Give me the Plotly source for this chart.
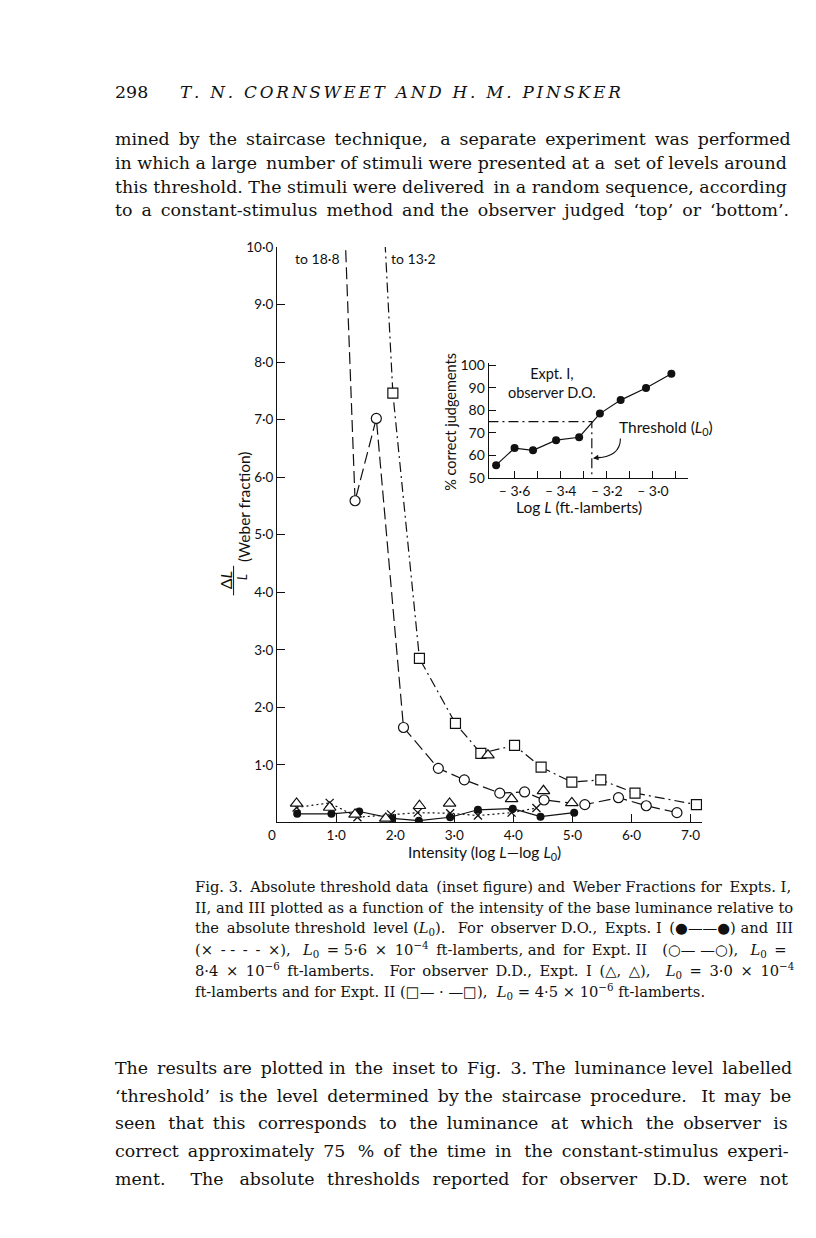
import plotly.graph_objects as go

W, H = 816, 1238
SERIF = "DejaVu Serif"
SANS = "Lato"
INK = "#111111"

# ---- main figure data: intensity (log L - log L0) vs Weber fraction ----
expt1_do_x = [0.34, 0.92, 1.39, 1.95, 2.40, 2.93, 3.40, 3.99, 4.46, 5.03]
expt1_do_y = [0.15, 0.15, 0.19, 0.07, 0.03, 0.09, 0.22, 0.24, 0.10, 0.17]

expt3_do_x = [0.33, 0.89, 1.36, 1.93, 2.38, 2.93, 3.40, 3.97, 4.39]
expt3_do_y = [0.26, 0.34, 0.09, 0.14, 0.17, 0.16, 0.12, 0.17, 0.25]

expt2_do_x = [0.84, 1.32, 1.68, 2.14, 2.73, 3.17, 3.77, 4.19, 4.52, 5.21, 5.78, 6.25, 6.77]
expt2_do_y = [18.8, 5.59, 7.02, 1.65, 0.94, 0.74, 0.51, 0.53, 0.39, 0.31, 0.43, 0.29, 0.17]

expt1_dd_x = [0.33, 0.89, 1.32, 1.84, 2.41, 2.92, 3.57, 3.97, 4.51, 4.99]
expt1_dd_y = [0.33, 0.26, 0.14, 0.07, 0.29, 0.33, 1.17, 0.41, 0.55, 0.34]

expt2_dd_x = [1.67, 1.96, 2.41, 3.02, 3.45, 4.02, 4.47, 4.99, 5.48, 6.06, 7.10]
expt2_dd_y = [13.2, 7.46, 2.85, 1.72, 1.20, 1.34, 0.96, 0.70, 0.74, 0.51, 0.31]

main_xticks = [0, 1, 2, 3, 4, 5, 6, 7]
main_xlabels = ["0\u2003", "1·0", "2·0", "3·0", "4·0", "5·0", "6·0", "7·0"]
main_yticks = [1, 2, 3, 4, 5, 6, 7, 8, 9, 10]
main_ylabels = ["1·0", "2·0", "3·0", "4·0", "5·0", "6·0", "7·0", "8·0", "9·0", "10·0"]

# ---- inset data: % correct vs log L ----
inset_x = [-3.68, -3.60, -3.52, -3.42, -3.32, -3.23, -3.14, -3.03, -2.92]
inset_y = [55.7, 63.3, 62.3, 66.8, 68.1, 78.6, 84.6, 90.0, 96.3]
threshold_x = -3.265
threshold_y = 75
inset_xticks = [-3.6, -3.5, -3.4, -3.3, -3.2, -3.1, -3.0, -2.9]
inset_xlabels = ["– 3·6", "", "– 3·4", "", "– 3·2", "", "– 3·0", ""]
inset_yticks = [50, 60, 70, 80, 90, 100]

# ---- page text (line, number of thin spaces added to imitate justification) ----
top_lines = [
    ("mined by the staircase technique, a separate experiment was performed", 10),
    ("in which a large number of stimuli were presented at a set of levels around", 2),
    ("this threshold. The stimuli were delivered in a random sequence, according", 1),
    ("to a constant-stimulus method and the observer judged ‘top’ or ‘bottom’.", 9),
]
L0 = "<i>L</i><sub>0</sub>"
caption_lines = [
    ("Fig. 3. Absolute threshold data (inset figure) and Weber Fractions for Expts. I,", 4),
    ("II, and III plotted as a function of the intensity of the base luminance relative to", 1),
    (f"the absolute threshold level ({L0}).  For observer D.O., Expts. I (●——●) and III", 7),
    (f"(× - - - - ×),  {L0} = 5·6 × 10<sup>−4</sup> ft-lamberts, and for Expt. II  (○—\u00a0—○),  {L0} =", 15),
    (f"8·4 × 10<sup>−6</sup> ft-lamberts.  For observer D.D., Expt. I (△, △),  {L0} = 3·0 × 10<sup>−4</sup>", 17),
    (f"ft-lamberts and for Expt. II (□— · —□),  {L0} = 4·5 × 10<sup>−6</sup> ft-lamberts.", 0),
]
bottom_lines = [
    ("The results are plotted in the inset to Fig. 3. The luminance level labelled", 8),
    ("‘threshold’ is the level determined by the staircase procedure.  It may be", 9),
    ("seen that this corresponds to the luminance at which the observer is", 19),
    ("correct approximately 75 % of the time in the constant-stimulus experi-", 12),
    ("ment.  The absolute thresholds reported for observer D.D. were not", 22),
]
header_page = "298"
header_title = "T. N. CORNSWEET AND H. M. PINSKER"


def px(x):
    return x / W


def py(y):
    return 1 - y / H


def justify(s, extra):
    # spread `extra` thin spaces evenly over the word gaps (outside html tags)
    parts = []
    depth = 0
    gaps = []
    for ch in s:
        if ch == "<":
            depth += 1
        elif ch == ">":
            depth -= 1
        if ch == " " and depth == 0:
            gaps.append(len(parts))
        parts.append(ch)
    if gaps and extra > 0:
        for k in range(extra):
            idx = gaps[int((k + 0.5) * len(gaps) / extra) % len(gaps)]
            parts[idx] += "\u2009"
    return "".join(parts).replace("  ", " \u00a0")


def line_style(dash):
    return dict(color=INK, width=1.2, dash=dash)


fig = go.Figure()

fig.add_trace(go.Scatter(
    x=expt3_do_x, y=expt3_do_y, mode="lines+markers",
    line=line_style("2px,3px"),
    marker=dict(symbol="x-thin", size=8, line=dict(color=INK, width=1.3)),
))
fig.add_trace(go.Scatter(
    x=expt1_do_x, y=expt1_do_y, mode="lines+markers",
    line=line_style("solid"),
    marker=dict(symbol="circle", size=8, color=INK),
))
fig.add_trace(go.Scatter(
    x=expt2_do_x, y=expt2_do_y, mode="lines+markers",
    line=line_style("12px,5px"),
    marker=dict(symbol="circle", size=10, color="white", line=dict(color=INK, width=1.2)),
))
fig.add_trace(go.Scatter(
    x=expt2_dd_x, y=expt2_dd_y, mode="lines+markers",
    line=line_style("10px,4px,2px,4px"),
    marker=dict(symbol="square", size=10, color="white", line=dict(color=INK, width=1.2)),
))
fig.add_trace(go.Scatter(
    x=expt1_dd_x, y=expt1_dd_y, mode="markers",
    marker=dict(symbol="triangle-up", size=11, color="white", line=dict(color=INK, width=1.2)),
))

# inset
fig.add_trace(go.Scatter(
    x=[inset_xticks[0] - 0.2, threshold_x, threshold_x],
    y=[threshold_y, threshold_y, 50],
    mode="lines", line=line_style("10px,4px,2px,4px"),
    xaxis="x2", yaxis="y2",
))
fig.add_trace(go.Scatter(
    x=inset_x, y=inset_y, mode="lines+markers",
    line=line_style("solid"),
    marker=dict(symbol="circle", size=8, color=INK),
    xaxis="x2", yaxis="y2",
))

axis_common = dict(
    showline=True, linecolor=INK, linewidth=1.2, showgrid=False, zeroline=False,
    ticks="inside", tickcolor=INK, tickwidth=1.2, ticklen=8,
    tickfont=dict(family=SANS, size=13.5, color=INK),
)

fig.update_layout(
    width=W, height=H,
    margin=dict(l=0, r=0, t=0, b=0),
    paper_bgcolor="white", plot_bgcolor="rgba(0,0,0,0)",
    showlegend=False,
    xaxis=dict(axis_common, domain=[px(263), px(693)], range=[0, 7.2],
               tickvals=main_xticks, ticktext=main_xlabels, anchor="y"),
    yaxis=dict(axis_common, domain=[py(817), py(234)], range=[0, 10],
               tickvals=main_yticks, ticktext=main_ylabels, anchor="x"),
    xaxis2=dict(axis_common, domain=[px(477), px(678)], range=[-3.712, -2.85],
                tickvals=inset_xticks, ticktext=inset_xlabels, anchor="y2", ticklen=7,
                tickfont=dict(family=SANS, size=14, color=INK)),
    yaxis2=dict(axis_common, domain=[py(468), py(352)], range=[50, 100.9],
                tickvals=inset_yticks, anchor="x2", ticklen=7,
                tickfont=dict(family=SANS, size=14, color=INK)),
)

ann = []


def text(x, y, s, size=13, family=SANS, xanchor="center", angle=0, **kw):
    ann.append(dict(x=px(x), y=py(y), xref="paper", yref="paper", text=s,
                    showarrow=False, xanchor=xanchor, yanchor="middle",
                    textangle=angle, font=dict(family=family, size=size, color=INK), **kw))


# figure labels
text(329, 246, "to 18·8", size=14, xanchor="right")
text(376, 246, "to 13·2", size=14, xanchor="left")
text(473, 848, "Intensity (log <i>L</i>—log <i>L</i><sub>0</sub>)", size=15.5)
text(211, 572, "Δ<i>L</i>", size=16, angle=-90)
text(227, 568, "<i>L</i>", size=13, angle=-90)
text(229, 497, "(Weber fraction)", size=15.5, angle=-90)
text(439, 411, "% correct judgements", size=14.5, angle=-90)
text(568, 497, "Log <i>L</i> (ft.-lamberts)", size=15.5)
text(541, 372, "Expt. I,<br>observer D.O.", size=14.5)
text(656, 417, "Threshold (<i>L</i><sub>0</sub>)", size=15.5)

# arrowhead at end of curved pointer
ann.append(dict(x=threshold_x + 0.005, y=58.8, xref="x2", yref="y2", ax=9, ay=-1,
                axref="pixel", ayref="pixel", text="", showarrow=True,
                arrowhead=2, arrowsize=1, arrowwidth=1.1, arrowcolor=INK))

# page text
BODY = 17.4
text(97, 77, header_page, size=BODY, family=SERIF, xanchor="left")
spaced_title = "\u2006".join(header_title)
text(163, 77, f"<i>{spaced_title}</i>", size=16.8, family=SERIF, xanchor="left")
for i, (s, pad) in enumerate(top_lines):
    text(97, 125 + 24 * i, justify(s, pad), size=BODY, family=SERIF, xanchor="left")
for i, (s, pad) in enumerate(caption_lines):
    text(178, 882 + 21.2 * i, justify(s, pad), size=14.7, family=SERIF, xanchor="left")
for i, (s, pad) in enumerate(bottom_lines):
    text(97, 1066 + 28 * i, justify(s, pad), size=BODY, family=SERIF, xanchor="left")

fig.update_layout(
    annotations=ann,
    shapes=[
        dict(type="line", xref="paper", yref="paper", x0=px(219), x1=px(219),
             y0=py(557), y1=py(587), line=dict(color=INK, width=1)),
        dict(type="path", xref="x2", yref="y2",
             path="M -3.141,67.5 Q -3.141,59.2 -3.25,58.8",
             line=dict(color=INK, width=1.1)),
    ],
)

fig.write_html("out.html")
